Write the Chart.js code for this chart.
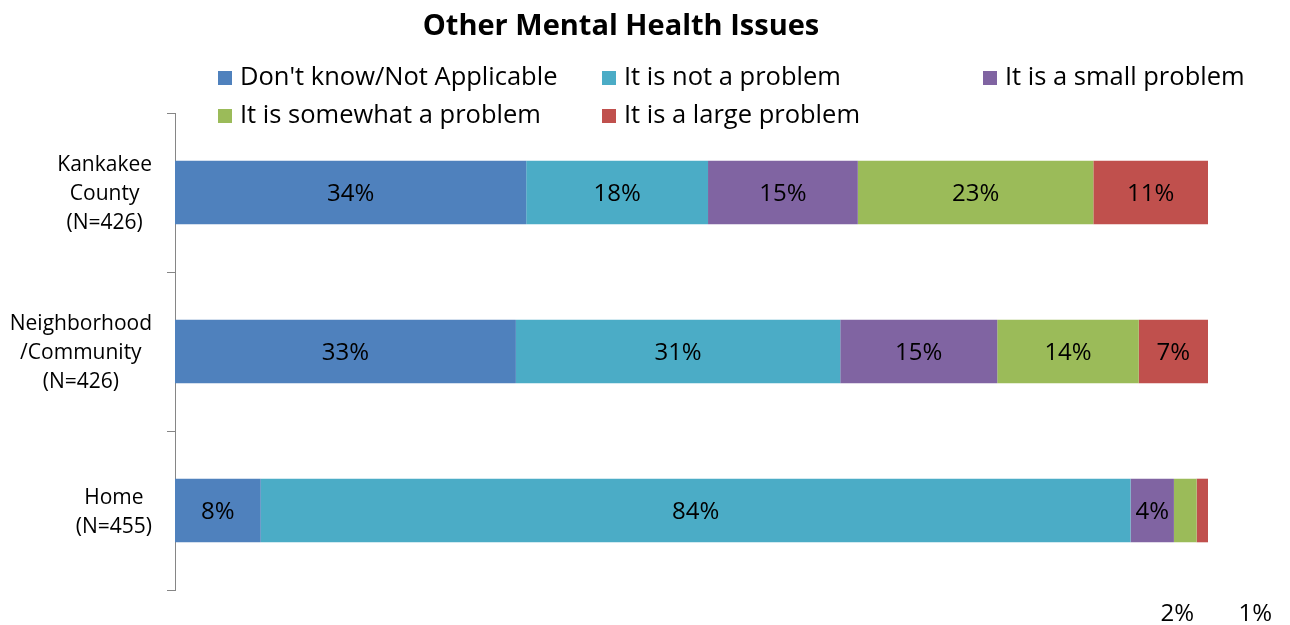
<!DOCTYPE html>
<html>
<head>
<meta charset="utf-8">
<script src="https://cdn.jsdelivr.net/npm/chart.js@4"></script>
<style>
  body { margin: 0; background: #fff; font-family: "Open Sans", sans-serif; }
  #wrap { position: relative; width: 1290px; height: 625px; }
  #title { position: absolute; left: 0; width: 1242px; top: 5px; text-align: center;
           font-weight: bold; font-size: 29px; color: #000; line-height: 38px; }
  #legend .item { position: absolute; font-size: 25.5px; color: #000; white-space: nowrap; line-height: 28px; }
  #legend .box { display: inline-block; width: 14px; height: 14px; margin-right: 8px; vertical-align: 0px; }
</style>
</head>
<body>
<div id="wrap">
  <canvas id="myChart" width="1290" height="625"></canvas>
  <div id="title">Other Mental Health Issues</div>
  <div id="legend"></div>
</div>
<script>
const categories = [
  ["Kankakee", "County", "(N=426)"],
  ["Neighborhood", "/Community", "(N=426)"],
  ["Home", "(N=455)"],
];
const seriesNames = [
  "Don't know/Not Applicable",
  "It is not a problem",
  "It is a small problem",
  "It is somewhat a problem",
  "It is a large problem",
];
const dontKnow = [34.0, 33.0, 8.3];
const notProblem = [17.6, 31.4, 84.2];
const smallProblem = [14.5, 15.2, 4.2];
const somewhatProblem = [22.8, 13.7, 2.2];
const largeProblem = [11.1, 6.7, 1.1];
const colors = ["#4F81BD", "#4BACC6", "#8064A2", "#9BBB59", "#C0504D"];

const allSeries = [dontKnow, notProblem, smallProblem, somewhatProblem, largeProblem];

// labels inside bars, with the ones that do not fit pushed under the chart
const barLabels = {
  id: "barLabels",
  afterDatasetsDraw(chart) {
    const c = chart.ctx;
    c.save();
    c.font = "24px 'Open Sans'";
    c.fillStyle = "#000";
    c.textAlign = "center";
    c.textBaseline = "middle";
    const outside = [];
    chart.data.datasets.forEach((ds, i) => {
      chart.getDatasetMeta(i).data.forEach((bar, j) => {
        const p = bar.getProps(["x", "y", "base"], true);
        const text = Math.round(ds.data[j]) + "%";
        const w = Math.abs(p.x - p.base);
        if (c.measureText(text).width + 2 <= w) {
          c.fillText(text, (p.x + p.base) / 2, p.y + 2);
        } else {
          outside.push({ text, cx: (p.x + p.base) / 2 });
        }
      });
    });
    outside.forEach((o, k) => {
      const x = outside[0].cx - 8 + k * 78;
      c.fillText(o.text, x, chart.chartArea.bottom + 24);
    });

    // category labels: lines centred inside a right-aligned block
    const y = chart.scales.y;
    c.font = "21px 'Open Sans'";
    const lh = 29;
    chart.data.labels.forEach((lines, i) => {
      const cy = y.getPixelForTick(i) + 2;
      const maxW = Math.max(...lines.map(l => c.measureText(l).width));
      const cx = 152 - maxW / 2;
      lines.forEach((l, n) => {
        c.fillText(l, cx, cy - (lines.length - 1) * lh / 2 + n * lh);
      });
    });
    c.restore();
  }
};

const ctx = document.getElementById("myChart");
const myChart = new Chart(ctx, {
  type: "bar",
  data: {
    labels: categories,
    datasets: seriesNames.map((name, i) => ({
      label: name,
      data: allSeries[i],
      backgroundColor: colors[i],
      barPercentage: 0.4,
      categoryPercentage: 1,
    })),
  },
  options: {
    indexAxis: "y",
    responsive: false,
    animation: false,
    layout: { padding: { left: 167, right: 82, top: 113, bottom: 35 } },
    plugins: {
      legend: { display: false },
      tooltip: { enabled: false },
    },
    scales: {
      x: { stacked: true, min: 0, max: 100, display: false },
      y: {
        stacked: true,
        ticks: { display: false },
        grid: { drawOnChartArea: false, drawTicks: true, tickLength: 8, color: "#868686", offset: true },
        border: { color: "#868686" },
      },
    },
  },
  plugins: [barLabels],
});

const colLeft = [218, 602, 983];
const rowTop = [61, 99];
const legend = document.getElementById("legend");
seriesNames.forEach((name, i) => {
  const item = document.createElement("div");
  item.className = "item";
  item.style.left = colLeft[i % 3] + "px";
  item.style.top = rowTop[Math.floor(i / 3)] + "px";
  item.innerHTML = '<span class="box" style="background:' + colors[i] + '"></span>' + name;
  legend.appendChild(item);
});
</script>
</body>
</html>
